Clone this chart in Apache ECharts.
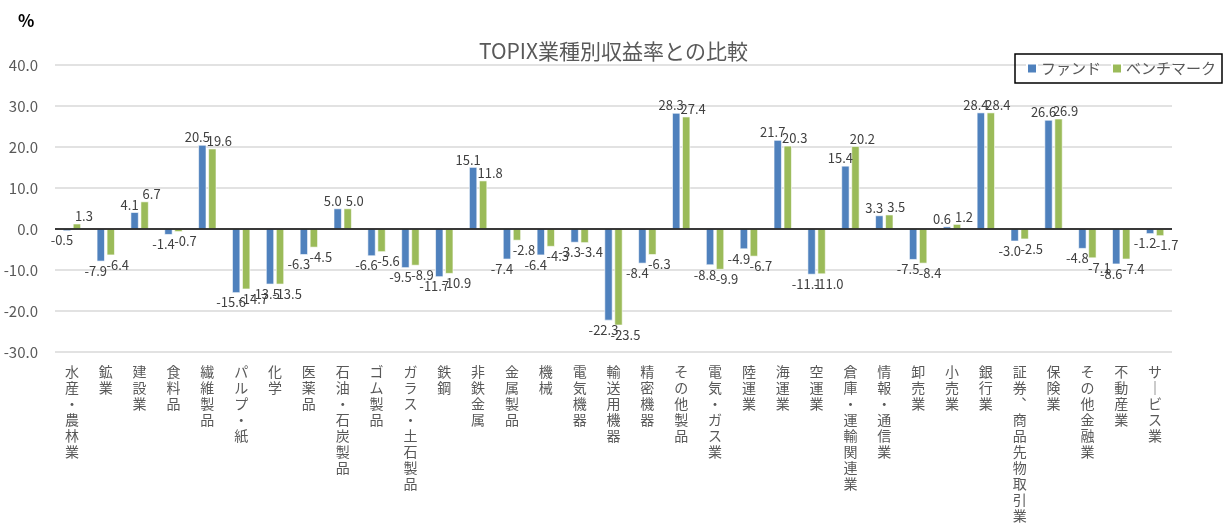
<!DOCTYPE html>
<html>
<head>
<meta charset="utf-8">
<script src="https://cdn.jsdelivr.net/npm/echarts@6/dist/echarts.min.js"></script>
<style>
  html, body { margin: 0; padding: 0; background: #fff; }
  #chart { width: 1227px; height: 525px; }
</style>
</head>
<body>
<div id="chart"></div>
<script>
// TOPIX 33 sectors
const categories = [
  '水産・農林業', '鉱業', '建設業', '食料品', '繊維製品', 'パルプ・紙', '化学', '医薬品',
  '石油・石炭製品', 'ゴム製品', 'ガラス・土石製品', '鉄鋼', '非鉄金属', '金属製品', '機械',
  '電気機器', '輸送用機器', '精密機器', 'その他製品', '電気・ガス業', '陸運業', '海運業',
  '空運業', '倉庫・運輸関連業', '情報・通信業', '卸売業', '小売業', '銀行業',
  '証券、商品先物取引業', '保険業', 'その他金融業', '不動産業', 'サービス業'
];

// Returns (%)
const fundReturns = [
  -0.5, -7.9, 4.1, -1.4, 20.5, -15.6, -13.5, -6.3, 5.0, -6.6, -9.5, -11.7, 15.1, -7.4, -6.4,
  -3.3, -22.3, -8.4, 28.3, -8.8, -4.9, 21.7, -11.1, 15.4, 3.3, -7.5, 0.6, 28.4, -3.0, 26.6,
  -4.8, -8.6, -1.2
];
const benchmarkReturns = [
  1.3, -6.4, 6.7, -0.7, 19.6, -14.7, -13.5, -4.5, 5.0, -5.6, -8.9, -10.9, 11.8, -2.8, -4.3,
  -3.4, -23.5, -6.3, 27.4, -9.9, -6.7, 20.3, -11.0, 20.2, 3.5, -8.4, 1.2, 28.4, -2.5, 26.9,
  -7.1, -7.4, -1.7
];

const seriesNames = ['ファンド', 'ベンチマーク'];
const yTicks = { min: -30, max: 40, interval: 10 };

const textGray = '#595959';
const labelGray = '#404040';
const font = '"Noto Sans CJK JP", "Noto Sans", sans-serif';

// Stack characters one per line for upright vertical labels
function verticalText(s) {
  return Array.from(s)
    .map(ch => ch === 'ー' ? '｜' : (ch === '、' ? '︑' : ch))
    .join('\n');
}

// Value labels sit outside the bar end; the pair's labels are nudged apart sideways
function barData(values, dx) {
  return values.map(v => ({
    value: v,
    label: {
      position: v < 0 ? 'bottom' : 'top',
      distance: v < 0 ? 3 : 1,
      offset: [dx, 0]
    }
  }));
}

const valueLabel = {
  show: true,
  formatter: p => p.value.toFixed(1),
  fontSize: 13,
  color: labelGray,
  fontFamily: font
};

const chart = echarts.init(document.getElementById('chart'), null, { renderer: 'canvas' });

chart.setOption({
  animation: false,
  backgroundColor: '#fff',
  title: {
    text: 'TOPIX業種別収益率との比較',
    left: 'center',
    top: 36,
    textStyle: { fontSize: 21, fontWeight: 'normal', color: textGray, fontFamily: font }
  },
  graphic: [{
    type: 'text',
    left: 18,
    top: 12,
    style: { text: '%', fontSize: 17, fontWeight: 'bold', fill: '#000', fontFamily: font }
  }],
  legend: {
    data: seriesNames,
    left: 1015,
    top: 54,
    width: 206,
    orient: 'horizontal',
    borderColor: '#000',
    borderWidth: 1.5,
    padding: [7, 6, 7, 11],
    itemWidth: 10,
    itemHeight: 10,
    itemGap: 10,
    icon: 'rect',
    textStyle: { fontSize: 15, color: textGray, fontFamily: font, padding: [0, 0, 0, -1] }
  },
  grid: { left: 55, right: 55, top: 65, bottom: 173 },
  xAxis: {
    type: 'category',
    data: categories,
    axisLine: { show: false, onZero: false },
    axisTick: { show: false },
    axisLabel: {
      interval: 0,
      margin: 12,
      fontSize: 14,
      lineHeight: 16,
      color: textGray,
      fontFamily: font,
      verticalAlign: 'top',
      formatter: v => verticalText(v)
    }
  },
  yAxis: {
    type: 'value',
    min: yTicks.min,
    max: yTicks.max,
    interval: yTicks.interval,
    axisLine: { show: false },
    axisTick: { show: false },
    splitLine: { lineStyle: { color: '#d9d9d9', width: 1.5 } },
    axisLabel: {
      formatter: v => v.toFixed(1),
      fontSize: 15,
      color: textGray,
      fontFamily: font,
      margin: 17
    }
  },
  series: [
    {
      name: seriesNames[0],
      type: 'bar',
      data: barData(fundReturns, -5),
      barWidth: 8,
      barGap: '25%',
      itemStyle: { color: '#4f81bd', borderColor: '#fff', borderWidth: 0.6 },
      label: valueLabel,
      markLine: {
        silent: true,
        symbol: 'none',
        label: { show: false },
        lineStyle: { color: '#000', width: 1.5, type: 'solid' },
        data: [{ yAxis: 0 }]
      }
    },
    {
      name: seriesNames[1],
      type: 'bar',
      data: barData(benchmarkReturns, 7),
      barWidth: 8,
      itemStyle: { color: '#9bbb59', borderColor: '#fff', borderWidth: 0.6 },
      label: valueLabel
    }
  ]
});
</script>
</body>
</html>
